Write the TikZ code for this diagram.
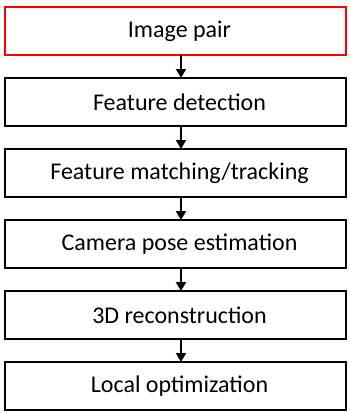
\documentclass[tikz,border=0pt]{standalone}
\usepackage{fontspec}
\setmainfont{Carlito}
\usetikzlibrary{positioning}
\usetikzlibrary{arrows.meta}

\begin{document}
\begin{tikzpicture}[x=1pt,y=1pt,
        stagebox/.style={draw=black,line width=2pt,minimum width=341pt,minimum height=48pt,inner sep=0pt,outer sep=0pt,font=\fontsize{24}{28}\selectfont,execute at begin node={\hspace*{8pt}}},
        flow/.style={line width=1.8pt,-{Triangle[width=10pt,length=9pt]}}]
        \useasboundingbox (0,0) rectangle (349,-412);
        \node[stagebox,draw=red] (pair) at (175.5,-31) {Image pair};
        \node[stagebox,below=23pt of pair] (detect) {Feature detection};
        \node[stagebox,below=23pt of detect] (match) {Feature matching/tracking};
        \node[stagebox,below=23pt of match] (pose) {Camera pose estimation};
        \node[stagebox,below=23pt of pose] (recon) {3D reconstruction};
        \node[stagebox,below=23pt of recon] (optim) {Local optimization};
        % arrows down the chain, a little right of centre
        \foreach \a/\b in {pair/detect,detect/match,match/pose,pose/recon,recon/optim} {
            \draw[flow] ([xshift=5.5pt]\a.south) -- ([xshift=5.5pt]\b.north);
        }
    \end{tikzpicture}
\end{document}
